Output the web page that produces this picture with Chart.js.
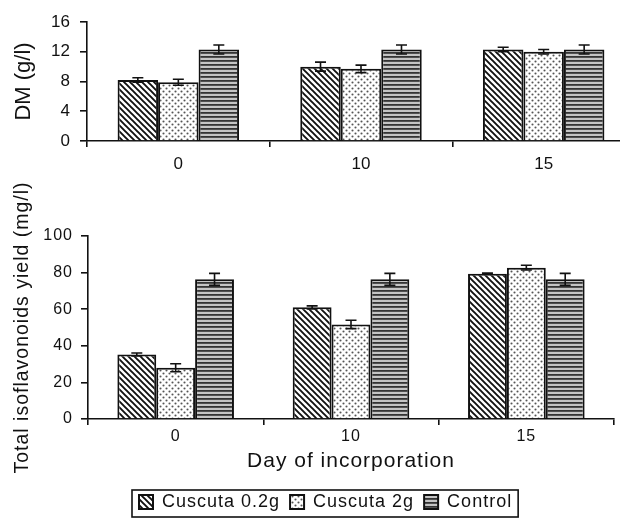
<!DOCTYPE html>
<html><head><meta charset="utf-8">
<script src="https://cdn.jsdelivr.net/npm/chart.js@4"></script>
<style>
html,body{margin:0;padding:0;background:#fff;overflow:hidden;width:620px;height:520px;}
#wrap{position:relative;width:620px;height:520px;overflow:hidden;background:#fff;}
#c1{position:absolute;left:0;top:0;}
#c2{position:absolute;left:0;top:150px;}
</style></head><body>
<div id="wrap"><canvas id="c2" width="620" height="371"></canvas><canvas id="c1" width="640" height="190"></canvas></div>
<script>
// ---- data ----
const days = ['0', '10', '15'];
const seriesNames = ['Cuscuta 0.2g', 'Cuscuta 2g', 'Control'];

const dmCuscuta02 = [8.2, 10.0, 12.3];
const dmCuscuta2  = [7.9, 9.7, 12.0];
const dmControl   = [12.3, 12.3, 12.3];
const dmErrCuscuta02 = [0.3, 0.6, 0.3];
const dmErrCuscuta2  = [0.4, 0.5, 0.3];
const dmErrControl   = [0.6, 0.6, 0.6];
const dmTicks = [0, 4, 8, 12, 16];

const isoCuscuta02 = [35.3, 61.0, 79.4];
const isoCuscuta2  = [28.0, 51.7, 82.7];
const isoControl   = [76.3, 76.3, 76.3];
const isoErrCuscuta02 = [0.8, 0.8, 0.3];
const isoErrCuscuta2  = [2.2, 2.3, 1.3];
const isoErrControl   = [3.3, 3.3, 3.3];
const isoTicks = [0, 20, 40, 60, 80, 100];

const F = "'Liberation Sans', Arial, Helvetica, sans-serif";
const INK = '#111';

// ---- hatch patterns ----
function makePattern(kind) {
  const t = document.createElement('canvas');
  const c = t.getContext('2d');
  if (kind === 'diag') {
    t.width = 6; t.height = 6;
    c.fillStyle = '#fff'; c.fillRect(0, 0, 6, 6);
    c.strokeStyle = '#111'; c.lineWidth = 1.9;
    c.beginPath();
    c.moveTo(-1, -1); c.lineTo(7, 7);
    c.moveTo(-1, 5); c.lineTo(1, 7);
    c.moveTo(5, -1); c.lineTo(7, 1);
    c.stroke();
  } else if (kind === 'dots') {
    t.width = 6; t.height = 6;
    c.fillStyle = '#fff'; c.fillRect(0, 0, 6, 6);
    c.fillStyle = '#555';
    c.beginPath(); c.arc(1.5, 1.5, 1.05, 0, Math.PI * 2); c.fill();
    c.beginPath(); c.arc(4.5, 4.5, 1.05, 0, Math.PI * 2); c.fill();
  } else {
    t.width = 4; t.height = 4;
    c.fillStyle = '#c4c4c4'; c.fillRect(0, 0, 4, 4);
    c.fillStyle = '#333'; c.fillRect(0, 0, 4, 1.8);
  }
  return c.createPattern(t, 'repeat');
}
const patterns = [makePattern('diag'), makePattern('dots'), makePattern('horiz')];

function makeDatasets(values, errors) {
  return values.map((v, i) => ({
    label: seriesNames[i],
    data: v,
    errors: errors[i],
    backgroundColor: patterns[i],
    borderColor: INK,
    borderWidth: 2,
    barPercentage: 1.0,
    categoryPercentage: 0.665
  }));
}

// ---- error bars drawn via the chart's scales ----
const errorBars = {
  id: 'errorBars',
  afterDatasetsDraw(chart) {
    const ctx = chart.ctx, y = chart.scales.y;
    chart.data.datasets.forEach((ds, i) => {
      const meta = chart.getDatasetMeta(i);
      meta.data.forEach((bar, j) => {
        const v = ds.data[j], e = ds.errors[j];
        const yt = y.getPixelForValue(v + e), yb = y.getPixelForValue(v - e);
        const x = bar.x, hw = 5.5;
        ctx.save();
        ctx.strokeStyle = INK; ctx.lineWidth = 1.6;
        ctx.beginPath();
        ctx.moveTo(x, yt); ctx.lineTo(x, yb);
        ctx.moveTo(x - hw, yt); ctx.lineTo(x + hw, yt);
        ctx.moveTo(x - hw, yb); ctx.lineTo(x + hw, yb);
        ctx.stroke();
        ctx.restore();
      });
    });
  }
};

const spacing = {
  id: 'spacing',
  beforeLayout(c) { c.ctx.letterSpacing = '1px'; },
  beforeDraw(c) { c.ctx.letterSpacing = '1px'; }
};

const legendShift = {
  id: 'legendShift',
  afterLayout(chart) {
    const lg = chart.legend;
    if (!lg || !lg.lineWidths) return;
    const pad = 10;
    const x0 = (lg.left + pad + lg.right - lg.lineWidths[0]) / 2;
    const dx = 139 - x0;
    lg.left += dx; lg.right += dx;
  },
  afterDraw(chart) {
    const lg = chart.legend;
    if (!lg || !lg.legendHitBoxes || !lg.legendHitBoxes.length) return;
    const hb = lg.legendHitBoxes;
    const first = hb[0], last = hb[hb.length - 1];
    const ctx = chart.ctx;
    ctx.save();
    ctx.strokeStyle = INK; ctx.lineWidth = 1.6;
    const l = first.left - 7, r = last.left + last.width + 6;
    const t = lg.top + 7, b = lg.top + 34;
    ctx.strokeRect(l, t, r - l, b - t);
    ctx.restore();
  }
};

// ---- top chart: DM ----
new Chart(document.getElementById('c1'), {
  type: 'bar',
  data: { labels: days, datasets: makeDatasets([dmCuscuta02, dmCuscuta2, dmControl], [dmErrCuscuta02, dmErrCuscuta2, dmErrControl]) },
  options: {
    responsive: false, animation: false, devicePixelRatio: 1,
    layout: { padding: { top: 22, right: 5, left: 0, bottom: 0 } },
    plugins: { legend: { display: false }, tooltip: { enabled: false } },
    scales: {
      x: {
        offset: true,
        grid: { display: true, drawOnChartArea: false, drawTicks: true, tickLength: 6, offset: true, color: INK, lineWidth: 1.6 },
        border: { display: true, color: INK, width: 1.6 },
        ticks: { color: INK, font: { family: F, size: 17 }, padding: 7 },
        afterFit(s) { s.height = 49; }
      },
      y: {
        min: dmTicks[0], max: dmTicks[dmTicks.length - 1],
        grid: { display: true, drawOnChartArea: false, tickLength: 7, color: INK, lineWidth: 1.6 },
        border: { display: true, color: INK, width: 1.6 },
        ticks: { stepSize: dmTicks[1] - dmTicks[0], color: INK, font: { family: F, size: 17 }, padding: 10 },
        title: { display: true, text: 'DM (g/l)', color: INK, font: { family: F, size: 22 }, padding: { top: 11, bottom: 0 } },
        afterFit(s) { s.width = 87; }
      }
    }
  },
  plugins: [errorBars]
});

// ---- bottom chart: isoflavonoids ----
new Chart(document.getElementById('c2'), {
  type: 'bar',
  data: { labels: days, datasets: makeDatasets([isoCuscuta02, isoCuscuta2, isoControl], [isoErrCuscuta02, isoErrCuscuta2, isoErrControl]) },
  options: {
    responsive: false, animation: false, devicePixelRatio: 1,
    layout: { padding: { top: 86, right: 6, left: 0, bottom: 0 } },
    plugins: {
      tooltip: { enabled: false },
      legend: {
        display: true, position: 'bottom', align: 'center',
        labels: { color: INK, font: { family: F, size: 18 }, boxWidth: 14, boxHeight: 14, padding: 10 }
      }
    },
    scales: {
      x: {
        offset: true,
        grid: { display: true, drawOnChartArea: false, drawTicks: true, tickLength: 6, offset: true, color: INK, lineWidth: 1.6 },
        border: { display: true, color: INK, width: 1.6 },
        ticks: { color: INK, font: { family: F, size: 16 }, padding: 2 },
        title: { display: true, text: 'Day of incorporation', color: INK, font: { family: F, size: 21 }, padding: { top: 0, bottom: 9 } },
        afterFit(s) { s.height = 64; }
      },
      y: {
        min: isoTicks[0], max: isoTicks[isoTicks.length - 1],
        grid: { display: true, drawOnChartArea: false, tickLength: 7, color: INK, lineWidth: 1.6 },
        border: { display: true, color: INK, width: 1.6 },
        ticks: { stepSize: isoTicks[1] - isoTicks[0], color: INK, font: { family: F, size: 16 }, padding: 8 },
        title: { display: true, text: 'Total isoflavonoids yield (mg/l)', color: INK, font: { family: F, size: 19.5 }, padding: { top: 11, bottom: 0 } },
        afterFit(s) { s.width = 88; }
      }
    }
  },
  plugins: [spacing, errorBars, legendShift]
});
</script>
</body></html>
